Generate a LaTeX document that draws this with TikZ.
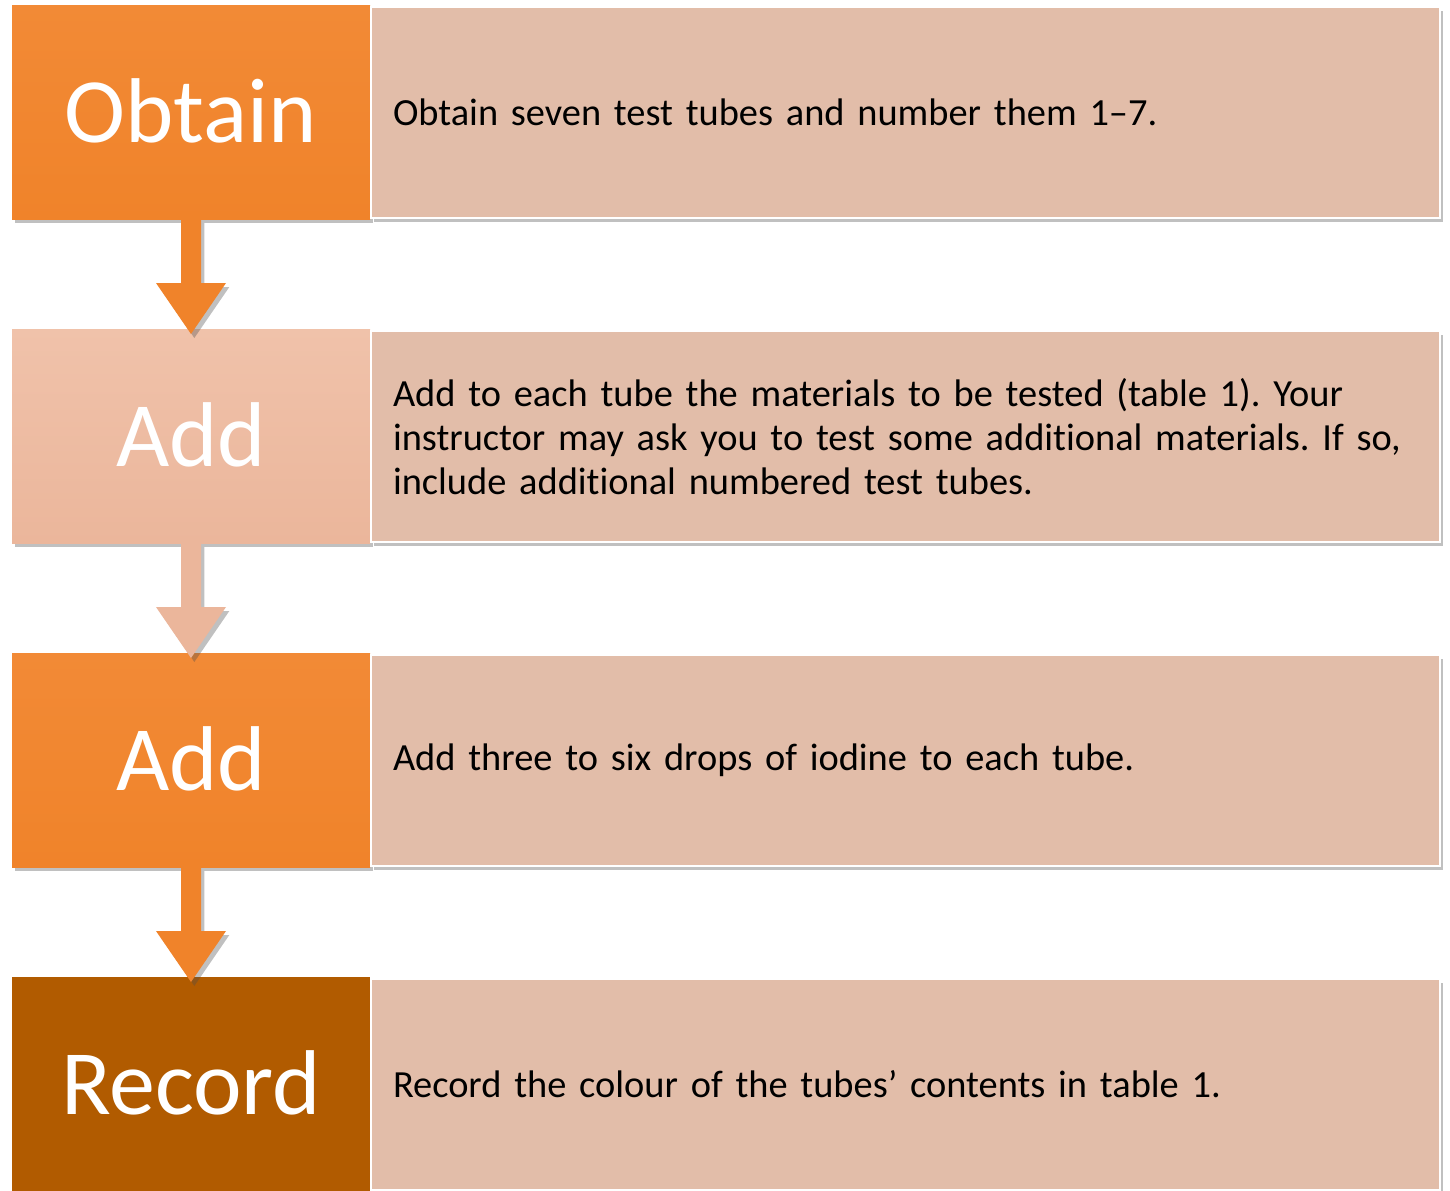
\documentclass[tikz,border=0pt]{standalone}
\usepackage{fontspec}
\setmainfont{Carlito}[Ligatures=NoCommon]
\usetikzlibrary{shadows,calc}
\definecolor{orangeA}{HTML}{F0832A}
\definecolor{orangeAtop}{HTML}{F28A36}
\definecolor{salmonB}{HTML}{EBB69B}
\definecolor{salmonBtop}{HTML}{F0C2AA}
\definecolor{brownC}{HTML}{B15B00}
\definecolor{tanR}{HTML}{E2BDA9}
\frenchspacing
\begin{document}
\begin{tikzpicture}[x=0.75pt,y=-0.75pt,
  shad/.style={drop shadow={shadow xshift=2.5pt,shadow yshift=-3pt,opacity=0.35,fill=black!70}},
  leftbox/.style={rectangle,inner sep=0pt,outer sep=0pt,anchor=north west,
    minimum width=268.5pt,minimum height=160.5pt,text=white,
    font=\fontsize{69}{80}\selectfont,shad},
  rightbox/.style={rectangle,inner xsep=16.5pt,inner ysep=0pt,outer sep=0pt,anchor=north west,
    minimum width=801.75pt,minimum height=158.25pt,text width=768.75pt,align=left,
    fill=tanR,draw=white,line width=1.5pt,text=black,
    font=\fontsize{28.8}{33}\selectfont,shad},
  flowarrow/.style={shad}
]
\useasboundingbox (0,0) rectangle (1450,1190);
\fill[white] (0,0) rectangle (1450,1190);
\clip (0,0) rectangle (1450,1190);

% left boxes
\node[leftbox,top color=orangeAtop,bottom color=orangeA] (L1) at (12,5) {\raisebox{2pt}{Obtain}};
\node[leftbox,top color=salmonBtop,bottom color=salmonB] (L2) at (12,329) {\raisebox{2pt}{Add}};
\node[leftbox,top color=orangeAtop,bottom color=orangeA] (L3) at (12,653) {\raisebox{2pt}{Add}};
\node[leftbox,fill=brownC] (L4) at (12,977) {\raisebox{2pt}{Record}};

% right boxes
\node[rightbox] (R1) at (371,7) {Obtain seven test tubes and number them 1–7.};
\node[rightbox] (R2) at (371,331) {Add to each tube the materials to be tested (table 1). Your\\instructor may ask you to test some additional materials. If so,\\include additional numbered test tubes.};
\node[rightbox] (R3) at (371,655) {Add three to six drops of iodine to each tube.};
\node[rightbox] (R4) at (371,979) {Record the colour of the tubes’ contents in table 1.};

% arrows
\foreach \a/\b/\c in {L1/L2/orangeA, L2/L3/salmonB, L3/L4/orangeA}{
  \path[flowarrow,fill=\c]
    ($(\a.south)+(-10,0)$) -- ($(\a.south)+(-10,64)$) -- ($(\a.south)+(-35,64)$)
    -- ($(\b.north)+(0,5)$) -- ($(\a.south)+(35,64)$) -- ($(\a.south)+(10,64)$)
    -- ($(\a.south)+(10,0)$) -- cycle;
}
\end{tikzpicture}
\end{document}
